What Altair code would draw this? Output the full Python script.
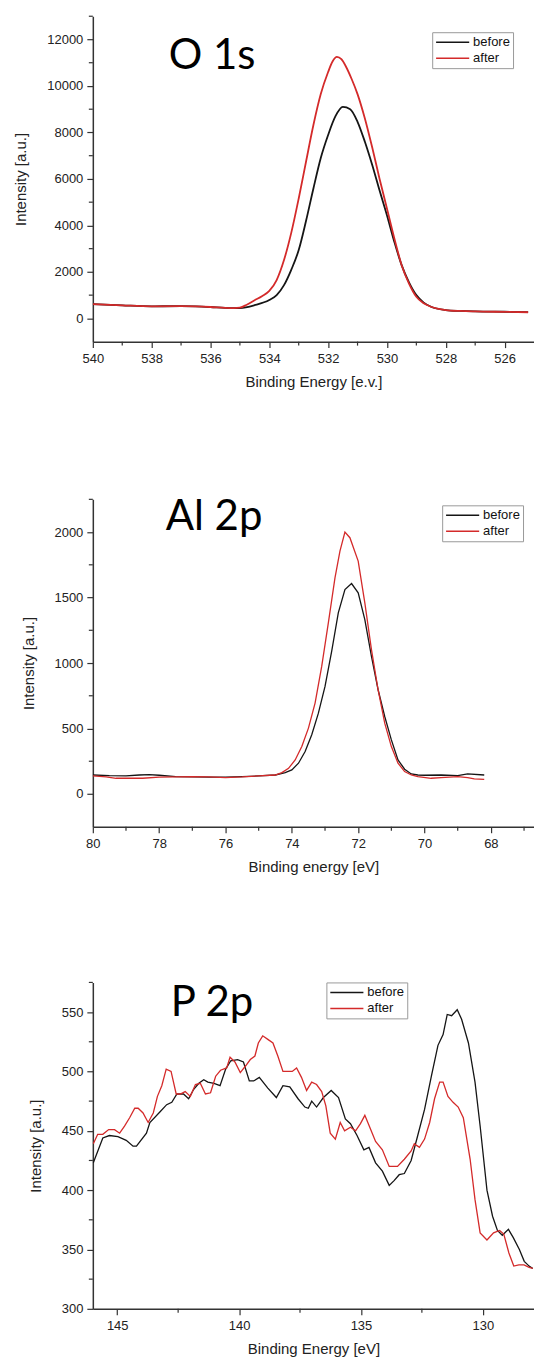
import altair as alt
import pandas as pd

FONT = "Liberation Sans"
BLACK = "#151515"
RED = "#d42a2a"
AXC = "#333333"

# ---------------- O 1s ----------------
o1s_before_e = [540, 539, 538, 537, 536.5, 536, 535.5, 535.2, 535, 534.5,
                534, 533.75, 533.5, 533.25, 533, 532.75, 532.5, 532.25, 532, 531.75,
                531.5, 531.25, 531, 530.75, 530.5, 530.25, 530, 529.75, 529.5, 529.25,
                529, 528.75, 528.5, 528, 527.5, 527, 526, 525.2]
o1s_before_i = [610, 560, 520, 530, 520, 490, 450, 440, 445, 570,
                790, 1000, 1430, 2100, 2940, 4200, 5590, 6900, 7890, 8700,
                9100, 9000, 8460, 7600, 6600, 5500, 4440, 3300, 2290, 1550,
                1000, 680, 500, 360, 320, 300, 285, 270]
o1s_after_e = [540, 539, 538, 537, 536.5, 536, 535.5, 535.2, 535, 534.75,
               534.5, 534.25, 534, 533.75, 533.5, 533.25, 533, 532.75, 532.5, 532.25,
               532, 531.85, 531.7, 531.55, 531.4, 531.2, 531, 530.75, 530.5, 530.25,
               530, 529.75, 529.5, 529.25, 529, 528.75, 528.5, 528, 527.5, 527,
               526, 525.2]
o1s_after_i = [610, 560, 520, 525, 515, 490, 450, 440, 460, 600,
               780, 950, 1180, 1650, 2510, 3700, 5160, 6750, 8320, 9650,
               10600, 11050, 11250, 11150, 10850, 10300, 9650, 8600, 7350, 6000,
               4730, 3450, 2290, 1500, 930, 650, 500, 360, 320, 300,
               280, 265]
o1s_x_major = [540, 538, 536, 534, 532, 530, 528, 526]
o1s_x_minor = [539, 537, 535, 533, 531, 529, 527]
o1s_y_major = [0, 2000, 4000, 6000, 8000, 10000, 12000]
o1s_y_minor = [1000, 3000, 5000, 7000, 9000, 11000, 13000]

# ---------------- Al 2p ----------------
al_before_e = [80, 79.5, 79, 78.6, 78.3, 78, 77.5, 77, 76.5, 76,
               75.5, 75, 74.5, 74.2, 74.0, 73.8, 73.6, 73.4, 73.2, 73.0,
               72.8, 72.6, 72.4, 72.2, 72.0, 71.8, 71.6, 71.4, 71.2, 71.0,
               70.8, 70.6, 70.4, 70.2, 70.0, 69.5, 69.0, 68.7, 68.2]
al_before_i = [145, 140, 138, 145, 148, 143, 133, 130, 128, 128,
               132, 138, 145, 163, 184, 235, 324, 452, 617, 821,
               1089, 1383, 1561, 1607, 1536, 1332, 1051, 796, 592, 413,
               260, 189, 153, 145, 143, 145, 140, 153, 145]
al_after_e = [80, 79.6, 79.3, 78.8, 78.5, 78, 77.5, 77, 76.5, 76,
              75.5, 75, 74.5, 74.3, 74.1, 73.9, 73.7, 73.5, 73.3, 73.1,
              72.9, 72.7, 72.55, 72.4, 72.25, 72.0, 71.8, 71.6, 71.4, 71.2,
              71.0, 70.8, 70.6, 70.4, 70.2, 69.8, 69.5, 69.0, 68.7, 68.5,
              68.2]
al_after_i = [138, 130, 120, 120, 120, 128, 130, 133, 130, 125,
              130, 138, 145, 163, 196, 260, 362, 503, 694, 974,
              1306, 1650, 1855, 2000, 1957, 1778, 1459, 1102, 796, 541,
              362, 235, 171, 145, 133, 120, 125, 133, 125, 115,
              112]
al_x_major = [80, 78, 76, 74, 72, 70, 68]
al_x_minor = [79, 77, 75, 73, 71, 69, 67]
al_y_major = [0, 500, 1000, 1500, 2000]
al_y_minor = [250, 750, 1250, 1750, 2250]

# ---------------- P 2p ----------------
p_before_e = [145.98, 145.59, 145.32, 144.97, 144.63, 144.35, 144.21, 143.80, 143.66, 143.24,
              142.97, 142.76, 142.55, 142.28, 142.07, 141.86, 141.65, 141.45, 141.28, 141.03,
              140.78, 140.55, 140.34, 140.06, 139.82, 139.58, 139.40, 139.17, 138.82, 138.47,
              138.20, 137.92, 137.58, 137.30, 137.16, 137.02, 136.82, 136.54, 136.22, 135.92,
              135.64, 135.43, 135.16, 134.88, 134.67, 134.40, 134.12, 133.84, 133.64, 133.43,
              133.22, 132.94, 132.67, 132.39, 132.11, 131.84, 131.63, 131.46, 131.28, 131.05,
              130.87, 130.59, 130.32, 130.11, 129.83, 129.6, 129.4, 129.2, 128.95, 128.75,
              128.5, 128.3, 128.1, 127.95]
p_before_i = [423, 444, 446, 445, 442, 437, 437, 448, 457, 466,
              472, 474, 481, 481, 477, 485, 490, 493, 491, 490,
              488, 502, 509, 510, 508, 492, 492, 495, 486, 478,
              488, 487, 477, 470, 469, 475, 470, 478, 484, 478,
              460, 456, 446, 434, 436, 423, 416, 404, 408, 413,
              414, 425, 446, 468, 496, 522, 531, 548, 547, 552,
              544, 524, 491, 454, 400, 378, 366, 362, 367, 360,
              350, 340, 336, 334]
p_after_e = [145.98, 145.80, 145.59, 145.35, 145.11, 144.90, 144.70, 144.49, 144.28, 144.14,
             143.94, 143.73, 143.52, 143.35, 143.17, 142.99, 142.79, 142.58, 142.41, 142.21,
             142.00, 141.79, 141.59, 141.38, 141.17, 140.96, 140.76, 140.51, 140.37, 140.17,
             139.95, 139.72, 139.54, 139.35, 139.21, 139.03, 138.82, 138.61, 138.41, 138.20,
             138.02, 137.82, 137.64, 137.44, 137.23, 137.02, 136.82, 136.61, 136.44, 136.26,
             136.05, 135.85, 135.67, 135.43, 135.22, 135.02, 134.84, 134.60, 134.40, 134.12,
             133.84, 133.50, 133.22, 132.94, 132.81, 132.60, 132.39, 132.18, 131.98, 131.77,
             131.63, 131.43, 131.22, 131.01, 130.80, 130.52, 130.32, 130.11, 129.83, 129.56,
             129.31, 129.14, 128.93, 128.73, 128.52, 128.31, 128.10, 127.95]
p_after_i = [439, 447, 447, 451, 451, 448, 454, 461, 469, 469,
             465, 457, 465, 479, 488, 502, 500, 481, 481, 483,
             479, 489, 490, 481, 482, 496, 501, 503, 512, 508,
             499, 505, 510, 513, 524, 530, 527, 524, 513, 500,
             500, 500, 503, 495, 484, 491, 489, 483, 471, 448,
             443, 457, 450, 453, 450, 456, 463, 451, 441, 434,
             420, 420, 426, 433, 439, 436, 443, 457, 477, 491,
             491, 479, 474, 470, 461, 426, 392, 364, 358, 364,
             366, 363, 347, 336, 337, 337, 335, 334]
p_x_major = [145, 140, 135, 130]
p_x_minor = [142.5, 137.5, 132.5]
p_y_major = [300, 350, 400, 450, 500, 550]
p_y_minor = [325, 375, 425, 475, 525, 575]

SERIES = ["before", "after"]
W = 442


def panel(name, be, bi, ae, ai, xdom, ydom, xmaj, xmin, ymaj, ymin, xtitle,
          h, lx, ly, tx, ty, sw, interp):
    xs = alt.Scale(domain=xdom, nice=False, zero=False)
    ys = alt.Scale(domain=ydom, nice=False, zero=False)
    cs = alt.Scale(domain=SERIES, range=[BLACK, RED])
    xa = alt.Axis(values=xmaj, title=xtitle, format="d")
    ya = alt.Axis(values=ymaj, title="Intensity [a.u.]", format="d")
    leg = alt.Legend(orient="none", legendX=lx, legendY=ly, title=None,
                     symbolType="stroke", symbolSize=1100, symbolStrokeWidth=1.5,
                     clipHeight=14,
                     labelFont=FONT, labelFontSize=13, labelColor="#111",
                     labelOffset=3, rowPadding=2, padding=3,
                     strokeColor="#9a9a9a", fillColor="white")

    def line(e, i, s):
        df = pd.DataFrame({"E": e, "I": i, "series": s})
        return alt.Chart(df).mark_line(strokeWidth=sw, interpolate=interp, clip=True).encode(
            x=alt.X("E:Q", scale=xs, axis=xa),
            y=alt.Y("I:Q", scale=ys, axis=ya),
            color=alt.Color("series:N", scale=cs, legend=leg),
        )

    xminor = alt.Chart(pd.DataFrame({"E": xmin})).mark_rule(color=AXC, strokeWidth=1.2).encode(
        x=alt.X("E:Q", scale=xs, axis=xa), y=alt.value(h), y2=alt.value(h + 4))
    yminor = alt.Chart(pd.DataFrame({"I": ymin})).mark_rule(color=AXC, strokeWidth=1.2).encode(
        y=alt.Y("I:Q", scale=ys, axis=ya), x=alt.value(-4), x2=alt.value(0))
    label = alt.Chart(pd.DataFrame({"t": [name]})).mark_text(
        font="Lato", fontSize=42, align="left", baseline="alphabetic", color="black"
    ).encode(x=alt.value(tx), y=alt.value(ty), text="t:N")

    return alt.layer(
        line(be, bi, "before"), line(ae, ai, "after"),
        xminor, yminor,
        label,
    ).properties(width=W, height=h)


p1 = panel("O 1s", o1s_before_e, o1s_before_i, o1s_after_e, o1s_after_i,
           [540, 525], [-1000, 13000], o1s_x_major, o1s_x_minor, o1s_y_major, o1s_y_minor,
           "Binding Energy [e.v.]", 326, 340, 16, 76, 53, 1.8, "monotone")
p2 = panel("Al 2p", al_before_e, al_before_i, al_after_e, al_after_i,
           [80, 66.7], [-250, 2250], al_x_major, al_x_minor, al_y_major, al_y_minor,
           "Binding energy [eV]", 328, 350, 6, 73, 31, 1.3, "linear")
p3 = panel("P 2p", p_before_e, p_before_i, p_after_e, p_after_i,
           [146, 127.9], [300, 575], p_x_major, p_x_minor, p_y_major, p_y_minor,
           "Binding Energy [eV]", 327, 234, 0, 78, 34, 1.3, "linear")

chart = alt.vconcat(p1, p2, p3, spacing=107).resolve_scale(
    color="independent"
).resolve_legend(
    color="independent"
).properties(
    padding={"left": 13, "top": 14, "right": 0, "bottom": 0},
    background="white",
).configure_view(stroke=None).configure_axis(
    domainColor=AXC, domainWidth=1.5, tickColor=AXC, tickWidth=1.2, tickSize=6,
    labelFont=FONT, labelFontSize=13, labelColor="#222", labelPadding=4,
    titleFont=FONT, titleFontSize=15, titleFontWeight="normal", titleColor="#222",
    grid=False, labelFlush=False, labelOverlap=False,
).configure_axisX(labelPadding=5, titlePadding=9).configure_axisY(titlePadding=18)

chart.save("out.html", embed_options={"renderer": "svg", "actions": False})
